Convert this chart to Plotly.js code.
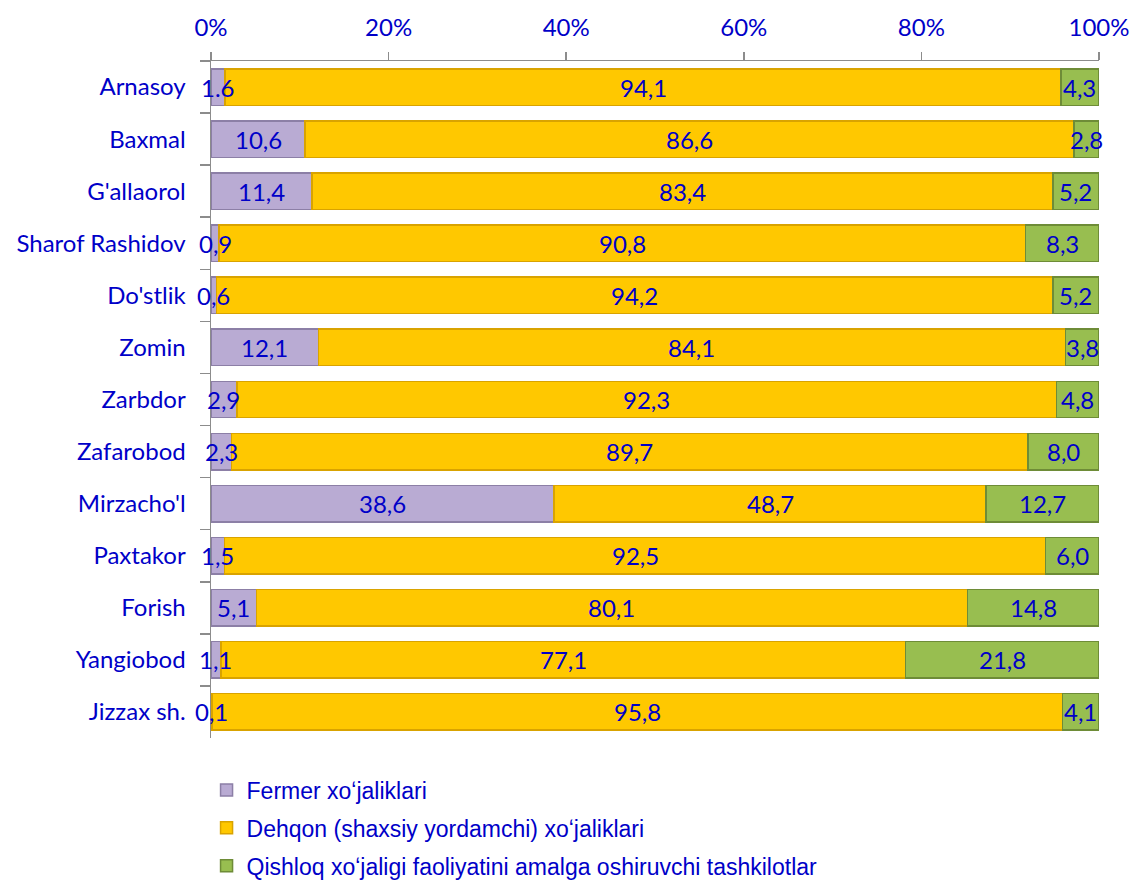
<!DOCTYPE html>
<html>
<head>
<meta charset="utf-8">
<script src="https://cdn.plot.ly/plotly-3.0.1.min.js"></script>
<style>
  html, body { margin: 0; padding: 0; background: #ffffff; }
  #chart { width: 1138px; height: 884px; }
</style>
</head>
<body>
<div id="chart"></div>
<script>
const categories = ["Arnasoy", "Baxmal", "G'allaorol", "Sharof Rashidov", "Do'stlik", "Zomin", "Zarbdor", "Zafarobod", "Mirzacho'l", "Paxtakor", "Forish", "Yangiobod", "Jizzax sh."];
const fermer = [1.6, 10.6, 11.4, 0.9, 0.6, 12.1, 2.9, 2.3, 38.6, 1.5, 5.1, 1.1, 0.1];
const dehqon = [94.1, 86.6, 83.4, 90.8, 94.2, 84.1, 92.3, 89.7, 48.7, 92.5, 80.1, 77.1, 95.8];
const qishloq = [4.3, 2.8, 5.2, 8.3, 5.2, 3.8, 4.8, 8.0, 12.7, 6.0, 14.8, 21.8, 4.1];
const fermerLabels = ["1.6", "10,6", "11,4", "0,9", "0,6", "12,1", "2,9", "2,3", "38,6", "1,5", "5,1", "1,1", "0,1"];
const dehqonLabels = ["94,1", "86,6", "83,4", "90,8", "94,2", "84,1", "92,3", "89,7", "48,7", "92,5", "80,1", "77,1", "95,8"];
const qishloqLabels = ["4,3", "2,8", "5,2", "8,3", "5,2", "3,8", "4,8", "8,0", "12,7", "6,0", "14,8", "21,8", "4,1"];
const seriesNames = ["Fermer xoʻjaliklari", "Dehqon (shaxsiy yordamchi) xoʻjaliklari", "Qishloq xoʻjaligi faoliyatini amalga oshiruvchi tashkilotlar"];
const xTicks = [0, 20, 40, 60, 80, 100];

const blue = "#0000C8";
const labelFont = { family: "Lato, 'Open Sans', sans-serif", size: 24, color: blue };

function mk(vals, name, fill, edge, grp) {
  return {
    type: "bar", orientation: "h", y: categories, x: vals, name: name,
    legendgroup: grp, hoverinfo: "none", textposition: "none",
    marker: { color: fill, line: { color: edge, width: 1.5 } }
  };
}

const data = [
  mk(fermer, seriesNames[0], "#B9ABD3", "#8C7FA6", "g1"),
  mk(dehqon, seriesNames[1], "#FFC800", "#D9A300", "g2"),
  mk(qishloq, seriesNames[2], "#98BE50", "#6E8C37", "g3")
];

// data labels centred on each segment, positioned through the axes
const annotations = [];
const seriesVals = [fermer, dehqon, qishloq];
const seriesLbls = [fermerLabels, dehqonLabels, qishloqLabels];
categories.forEach((cat, i) => {
  let base = 0;
  seriesVals.forEach((vals, s) => {
    annotations.push({
      x: base + vals[i] / 2, y: cat, xref: "x", yref: "y",
      text: seriesLbls[s][i], showarrow: false, font: labelFont,
      xanchor: "center", yanchor: "middle"
    });
    base += vals[i];
  });
});

const layout = {
  width: 1138, height: 884,
  margin: { l: 211, r: 39, t: 61, b: 146, autoexpand: false },
  paper_bgcolor: "#ffffff", plot_bgcolor: "#ffffff",
  barmode: "stack", bargap: 0.3, showlegend: true,
  annotations: annotations,
  xaxis: {
    side: "top", range: [0, 100], tickvals: xTicks, ticktext: xTicks.map(v => v + "%"),
    showgrid: false, zeroline: false, showline: true, linecolor: "#8c8c8c", linewidth: 1.5,
    ticks: "outside", ticklen: 8, tickcolor: "#8c8c8c", tickwidth: 1.5,
    tickfont: labelFont, ticklabelstandoff: 6, fixedrange: true
  },
  yaxis: {
    autorange: "reversed", type: "category",
    showgrid: false, zeroline: false, showline: true, linecolor: "#8c8c8c", linewidth: 1.5,
    ticks: "outside", tickson: "boundaries", ticklen: 10, tickcolor: "#8c8c8c", tickwidth: 1.5,
    tickfont: labelFont, ticklabelstandoff: 19, fixedrange: true
  },
  legend: {
    orientation: "v", x: -0.005, xanchor: "left", y: -0.045, yanchor: "top",
    font: { family: "'Liberation Sans', Arial, sans-serif", size: 23, color: blue },
    tracegroupgap: 5, itemwidth: 30, traceorder: "grouped"
  }
};

Plotly.newPlot("chart", data, layout, { displayModeBar: false, staticPlot: true });
</script>
</body>
</html>
